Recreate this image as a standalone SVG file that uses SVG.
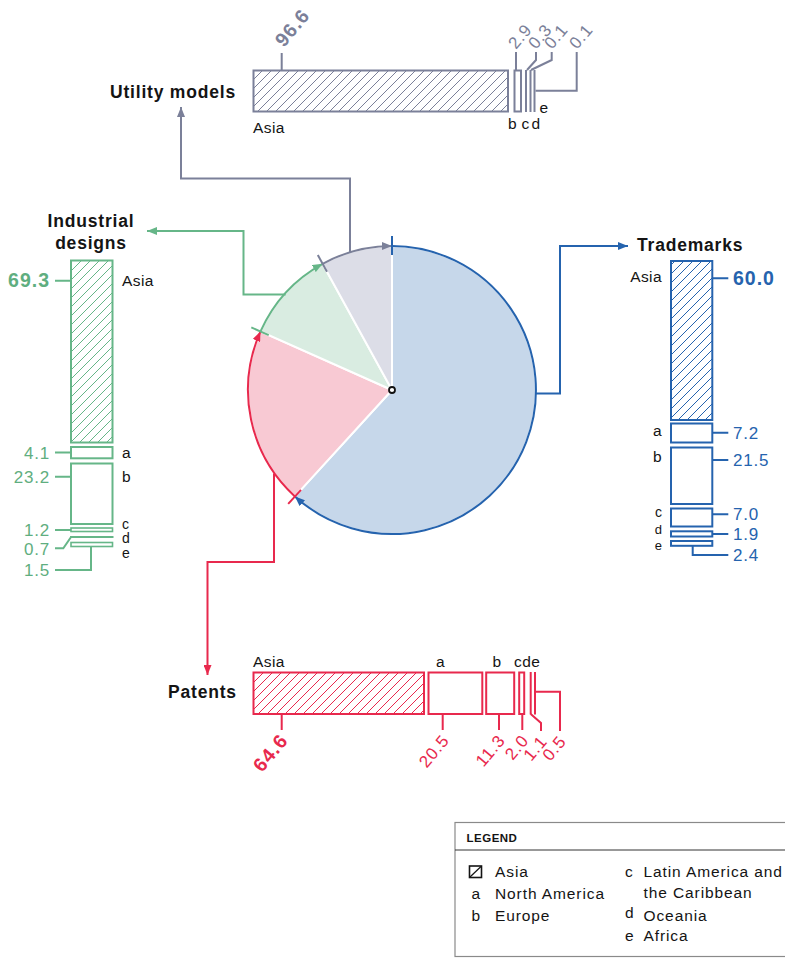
<svg xmlns="http://www.w3.org/2000/svg" width="785" height="958" viewBox="0 0 785 958">
<style>
text{font-family:"Liberation Sans",Arial,Helvetica,sans-serif}
.title{font-size:17.5px;font-weight:bold;letter-spacing:0.8px;fill:#141414}
.lbl{font-size:15.5px;fill:#141414;letter-spacing:0.4px}
.sm{font-size:14px;fill:#141414}
.xs{font-size:13px;fill:#141414}
.num{font-size:17px;letter-spacing:0.8px}
.big{font-size:19.5px;font-weight:bold;letter-spacing:1px}
.leg{font-size:15.5px;fill:#141414;letter-spacing:0.9px}
.g{stroke:#7b8099;fill:none;stroke-width:2}
.gr{stroke:#66b688;fill:none;stroke-width:2}
.bl{stroke:#2563ae;fill:none;stroke-width:2}
.rd{stroke:#e8294d;fill:none;stroke-width:2}
.tg{fill:#7b8099}.tgr{fill:#5fae80}.tbl{fill:#2563ae}.trd{fill:#e8294d}
</style>
<defs>
<pattern id="hg" patternUnits="userSpaceOnUse" width="9" height="9"><path d="M-1,10 L10,-1" stroke="#7b8099" stroke-width="1"/></pattern>
<pattern id="hgr" patternUnits="userSpaceOnUse" width="9" height="9"><path d="M-1,10 L10,-1" stroke="#66b688" stroke-width="1"/></pattern>
<pattern id="hbl" patternUnits="userSpaceOnUse" width="9" height="9"><path d="M-1,10 L10,-1" stroke="#2563ae" stroke-width="1"/></pattern>
<pattern id="hrd" patternUnits="userSpaceOnUse" width="9" height="9"><path d="M-1,10 L10,-1" stroke="#e8294d" stroke-width="1"/></pattern>
<marker id="mg" viewBox="0 0 10 8" refX="10" refY="4" markerWidth="10" markerHeight="8" markerUnits="userSpaceOnUse" orient="auto"><path d="M0,0 L10,4 L0,8 z" fill="#7b8099"/></marker>
<marker id="mgr" viewBox="0 0 10 8" refX="10" refY="4" markerWidth="10" markerHeight="8" markerUnits="userSpaceOnUse" orient="auto"><path d="M0,0 L10,4 L0,8 z" fill="#66b688"/></marker>
<marker id="mbl" viewBox="0 0 10 8" refX="10" refY="4" markerWidth="10" markerHeight="8" markerUnits="userSpaceOnUse" orient="auto"><path d="M0,0 L10,4 L0,8 z" fill="#2563ae"/></marker>
<marker id="mrd" viewBox="0 0 10 8" refX="10" refY="4" markerWidth="10" markerHeight="8" markerUnits="userSpaceOnUse" orient="auto"><path d="M0,0 L10,4 L0,8 z" fill="#e8294d"/></marker>
</defs>
<rect width="785" height="958" fill="#fff"/>

<!-- Pie -->
<g id="pie">
<path d="M392,390 L392,246 A144,144 0 1 1 294.9,496.4 Z" fill="#c6d7ea" stroke="#fff" stroke-width="2"/>
<path d="M392,390 L294.9,496.4 A144,144 0 0 1 260.5,331.4 Z" fill="#f8c9d3" stroke="#fff" stroke-width="2"/>
<path d="M392,390 L260.5,331.4 A144,144 0 0 1 322.6,263.8 Z" fill="#d9ece1" stroke="#fff" stroke-width="2"/>
<path d="M392,390 L322.6,263.8 A144,144 0 0 1 392,246 Z" fill="#dcdde7" stroke="#fff" stroke-width="2"/>
<path class="bl" d="M392,246 A144,144 0 1 1 294.9,496.4" marker-end="url(#mbl)"/>
<path class="rd" d="M294.9,496.4 A144,144 0 0 1 260.5,331.4" marker-end="url(#mrd)"/>
<path class="gr" d="M260.5,331.4 A144,144 0 0 1 322.6,263.8" marker-end="url(#mgr)"/>
<path class="g" d="M322.6,263.8 A144,144 0 0 1 392,246" marker-end="url(#mg)"/>
<line class="bl" x1="392" y1="236" x2="392" y2="255"/>
<line class="rd" x1="301" y1="489.8" x2="288.2" y2="503.8"/>
<line class="gr" x1="268.7" y1="335.1" x2="251.3" y2="327.4"/>
<line class="g" x1="327" y1="271.7" x2="317.8" y2="255.1"/>
<circle cx="392" cy="390" r="3" fill="#fff" stroke="#111" stroke-width="1.8"/>
</g>

<!-- Connectors -->
<g id="connectors">
<path class="g" d="M350,252.5 V178.5 H181 V107" marker-end="url(#mg)"/>
<path class="gr" d="M285.6,294.5 H243.5 V231 H147" marker-end="url(#mgr)"/>
<path class="bl" d="M536,393.5 H560 V246 H628" marker-end="url(#mbl)"/>
<path class="rd" d="M274,473.5 V562 H207.5 V675" marker-end="url(#mrd)"/>
</g>

<!-- Utility models -->
<g id="utility-models">
<text class="title" x="110" y="98">Utility models</text>
<rect x="253.5" y="70.5" width="254.5" height="41" fill="url(#hg)" stroke="#7b8099" stroke-width="2"/>
<rect x="514.5" y="70.5" width="6.5" height="41" fill="#fff" stroke="#7b8099" stroke-width="2"/>
<line class="g" x1="526" y1="70" x2="526" y2="112" stroke-width="2.2"/>
<line class="g" x1="530.5" y1="70" x2="530.5" y2="112" stroke-width="2.2"/>
<line class="g" x1="534.5" y1="70" x2="534.5" y2="112" stroke-width="2.2"/>
<path class="g" stroke-width="1.5" d="M281.7,70 V53 M516,70 V52 M536,52 V60 L527,70 M551.7,52 V60 L531,70 M576.7,52 V90.7 H535.5"/>
<text class="lbl" x="253" y="133">Asia</text>
<text class="lbl" x="508" y="128.5">b</text>
<text class="lbl" x="521.5" y="128.5">c</text>
<text class="lbl" x="531.5" y="128.5">d</text>
<text class="lbl" x="539.5" y="112.5">e</text>
<text class="big tg" transform="translate(284,48) rotate(-50)">96.6</text>
<text class="num tg" transform="translate(516,50) rotate(-50)">2.9</text>
<text class="num tg" transform="translate(536,50) rotate(-50)">0.3</text>
<text class="num tg" transform="translate(552,50) rotate(-50)">0.1</text>
<text class="num tg" transform="translate(577,50) rotate(-50)">0.1</text>
</g>

<!-- Industrial designs -->
<g id="industrial-designs">
<text class="title" x="91" y="227" text-anchor="middle">Industrial</text>
<text class="title" x="91" y="249" text-anchor="middle">designs</text>
<rect x="71" y="260.5" width="41.5" height="182" fill="url(#hgr)" stroke="#66b688" stroke-width="2"/>
<rect x="71" y="447" width="41.5" height="11.3" fill="#fff" stroke="#66b688" stroke-width="2"/>
<rect x="71" y="463.5" width="41.5" height="60.5" fill="#fff" stroke="#66b688" stroke-width="2"/>
<rect x="71" y="528" width="41.5" height="3.5" fill="#fff" stroke="#66b688" stroke-width="1.6"/>
<line class="gr" x1="70" y1="537" x2="113.5" y2="537" stroke-width="3"/>
<rect x="71" y="542.5" width="41.5" height="4" fill="#fff" stroke="#66b688" stroke-width="1.6"/>
<path class="gr" stroke-width="1.5" d="M55,280.7 H71 M55,452.5 H71 M55,476.7 H71 M55,530 H71 M55,548.3 H63.3 L70.7,537.5 M55,570 H91 V546.7"/>
<text class="big tgr" x="50" y="287" text-anchor="end">69.3</text>
<text class="num tgr" x="50" y="458.5" text-anchor="end">4.1</text>
<text class="num tgr" x="50" y="482.7" text-anchor="end">23.2</text>
<text class="num tgr" x="50" y="535.5" text-anchor="end">1.2</text>
<text class="num tgr" x="50" y="555" text-anchor="end">0.7</text>
<text class="num tgr" x="50" y="576" text-anchor="end">1.5</text>
<text class="lbl" x="122" y="286">Asia</text>
<text class="lbl" x="122" y="458">a</text>
<text class="lbl" x="122" y="482">b</text>
<text class="sm" x="122" y="528.5">c</text>
<text class="sm" x="122" y="543">d</text>
<text class="sm" x="122" y="557.5">e</text>
</g>

<!-- Trademarks -->
<g id="trademarks">
<text class="title" x="637" y="251">Trademarks</text>
<rect x="671" y="261" width="41.3" height="159" fill="url(#hbl)" stroke="#2563ae" stroke-width="2"/>
<rect x="671" y="423.5" width="41.3" height="19" fill="#fff" stroke="#2563ae" stroke-width="2"/>
<rect x="671" y="447.5" width="41.3" height="56.5" fill="#fff" stroke="#2563ae" stroke-width="2"/>
<rect x="671" y="508.5" width="41.3" height="18" fill="#fff" stroke="#2563ae" stroke-width="2"/>
<rect x="671" y="531.3" width="41.3" height="5.2" fill="#fff" stroke="#2563ae" stroke-width="2"/>
<rect x="671" y="541" width="41.3" height="4.8" fill="#fff" stroke="#2563ae" stroke-width="2"/>
<path class="bl" stroke-width="1.5" d="M712.3,278.3 H728.3 M712.3,432.7 H728.3 M712.3,460 H728.3 M712.3,514.3 H728.3 M712.3,534 H728.3 M692.7,545.8 V555 H728.3"/>
<text class="big tbl" x="733" y="284.5">60.0</text>
<text class="num tbl" x="733" y="438.5">7.2</text>
<text class="num tbl" x="733" y="466">21.5</text>
<text class="num tbl" x="733" y="520">7.0</text>
<text class="num tbl" x="733" y="540">1.9</text>
<text class="num tbl" x="733" y="561">2.4</text>
<text class="lbl" x="662" y="282" text-anchor="end">Asia</text>
<text class="lbl" x="662" y="436" text-anchor="end">a</text>
<text class="lbl" x="662" y="462" text-anchor="end">b</text>
<text class="sm" x="662" y="517" text-anchor="end">c</text>
<text class="xs" x="662" y="533.5" text-anchor="end">d</text>
<text class="xs" x="662" y="550" text-anchor="end">e</text>
</g>

<!-- Patents -->
<g id="patents">
<text class="title" x="168" y="698">Patents</text>
<rect x="253.5" y="672.5" width="170.5" height="41.5" fill="url(#hrd)" stroke="#e8294d" stroke-width="2"/>
<rect x="428.5" y="672.5" width="53.8" height="41.5" fill="#fff" stroke="#e8294d" stroke-width="2"/>
<rect x="486.2" y="672.5" width="28" height="41.5" fill="#fff" stroke="#e8294d" stroke-width="2"/>
<rect x="519.2" y="672.5" width="5" height="41.5" fill="#fff" stroke="#e8294d" stroke-width="2"/>
<line class="rd" x1="530.7" y1="672" x2="530.7" y2="714.5" stroke-width="2.4"/>
<line class="rd" x1="535" y1="672" x2="535" y2="714.5" stroke-width="2.4"/>
<path class="rd" stroke-width="1.5" d="M281.7,714 V730 M442.7,714 V730 M499,714 V730 M522.3,714 V730 M530.7,714 L541,723 V731 M535,691.7 H560 V731"/>
<text class="lbl" x="253" y="667">Asia</text>
<text class="lbl" x="436" y="667">a</text>
<text class="lbl" x="492.5" y="667">b</text>
<text class="lbl" x="514" y="667">cde</text>
<text class="big trd" text-anchor="end" transform="translate(289,741) rotate(-50)">64.6</text>
<text class="num trd" text-anchor="end" transform="translate(450,741) rotate(-50)">20.5</text>
<text class="num trd" text-anchor="end" transform="translate(506,741) rotate(-50)">11.3</text>
<text class="num trd" text-anchor="end" transform="translate(529.5,741) rotate(-50)">2.0</text>
<text class="num trd" text-anchor="end" transform="translate(548,742) rotate(-50)">1.1</text>
<text class="num trd" text-anchor="end" transform="translate(567,742) rotate(-50)">0.5</text>
</g>

<!-- Legend -->
<g id="legend">
<rect x="455" y="822.5" width="340" height="134" fill="#fff" stroke="#8a8a8a" stroke-width="1.2"/>
<line x1="455" y1="850" x2="785" y2="850" stroke="#333" stroke-width="1"/>
<text x="466.5" y="841.5" style="font-size:11.5px;font-weight:bold;fill:#141414;letter-spacing:0.5px">LEGEND</text>
<rect x="469.5" y="866" width="12" height="11.5" fill="#fff" stroke="#141414" stroke-width="1.6"/>
<line x1="470" y1="877" x2="481" y2="866.5" stroke="#141414" stroke-width="1.2"/>
<text class="leg" x="495" y="877">Asia</text>
<text class="leg" x="471.5" y="899">a</text>
<text class="leg" x="495" y="899">North America</text>
<text class="leg" x="471.5" y="920.5">b</text>
<text class="leg" x="495" y="920.5">Europe</text>
<text class="leg" x="625" y="877">c</text>
<text class="leg" x="643.5" y="877">Latin America and</text>
<text class="leg" x="643.5" y="897.5">the Caribbean</text>
<text class="leg" x="625" y="918">d</text>
<text class="leg" x="643.5" y="920.5">Oceania</text>
<text class="leg" x="625" y="941">e</text>
<text class="leg" x="643.5" y="941">Africa</text>
</g>
</svg>
